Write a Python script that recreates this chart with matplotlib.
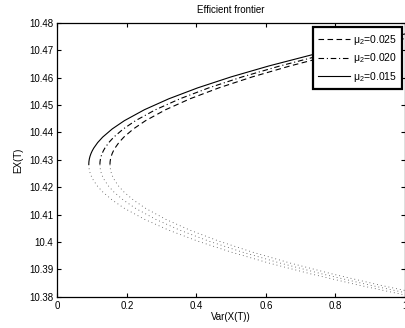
import matplotlib
matplotlib.use("Agg")
import matplotlib.pyplot as plt
from matplotlib.ticker import FuncFormatter

# expected wealth along the frontier (upper / lower branch)
ex_upper = [10.4283, 10.4293, 10.4303, 10.4313, 10.4323, 10.4333, 10.4343, 10.4363, 10.4383, 10.4413,
            10.4443, 10.4483, 10.4523, 10.4563, 10.4603, 10.4643, 10.4683, 10.4723, 10.4763, 10.4783]
ex_lower = [10.4283, 10.4273, 10.4263, 10.4253, 10.4243, 10.4233, 10.4223, 10.4203, 10.4183, 10.4153,
            10.4123, 10.4083, 10.4043, 10.4003, 10.3963, 10.3923, 10.3883, 10.3843, 10.3803, 10.3783]

# variance for each mu_2 (same for both branches)
var_025 = [0.151, 0.1514, 0.1526, 0.1546, 0.1574, 0.161, 0.1654, 0.1766, 0.191, 0.2186,
           0.2534, 0.311, 0.3814, 0.4646, 0.5606, 0.6694, 0.791, 0.9254, 1.0726, 1.151]
var_020 = [0.122, 0.1224, 0.1236, 0.1256, 0.1284, 0.132, 0.1364, 0.1476, 0.162, 0.1896,
           0.2244, 0.282, 0.3524, 0.4356, 0.5316, 0.6404, 0.762, 0.8964, 1.0436, 1.122]
var_015 = [0.090, 0.0904, 0.0916, 0.0936, 0.0964, 0.100, 0.1044, 0.1156, 0.130, 0.1576,
           0.1924, 0.250, 0.3204, 0.4036, 0.4996, 0.6084, 0.730, 0.8644, 1.0116, 1.090]

labels = ["0.025", "0.020", "0.015"]
x_ticks = [0, 0.2, 0.4, 0.6, 0.8, 1]
y_ticks = [10.38, 10.39, 10.40, 10.41, 10.42, 10.43, 10.44, 10.45, 10.46, 10.47, 10.48]

plt.rcParams["font.family"] = ["Liberation Sans", "DejaVu Sans"]
plt.rcParams["mathtext.fontset"] = "custom"
plt.rcParams["mathtext.rm"] = "Liberation Sans"
plt.rcParams["mathtext.it"] = "Liberation Sans:italic"
plt.rcParams["lines.scale_dashes"] = False

fig = plt.figure(figsize=(4.06, 3.28), dpi=100)
ax = fig.add_axes([0.1416, 0.0954, 0.8559, 0.8346])

styles = [(0, (4, 2.5)), (0, (4, 2, 0.8, 2)), "-"]
for var, lab, ls in zip([var_025, var_020, var_015], labels, styles):
    ax.plot(var, ex_upper, color="black", lw=0.8, linestyle=ls,
            label="μ$_2$=" + lab)
    ax.plot(var, ex_lower, color="0.3", lw=0.6, linestyle=(0, (0.6, 2.2)))

ax.set_xlim(0, 1)
ax.set_ylim(10.38, 10.48)
ax.set_xticks(x_ticks)
ax.set_yticks(y_ticks)
ax.xaxis.set_major_formatter(FuncFormatter(lambda v, p: "%g" % round(v, 4)))
ax.yaxis.set_major_formatter(FuncFormatter(lambda v, p: "%g" % round(v, 4)))
ax.tick_params(direction="in", top=True, right=True, length=3, width=0.8,
               labelsize=7, pad=3)
for s in ax.spines.values():
    s.set_linewidth(0.9)

ax.set_title("Efficient frontier", fontsize=7, pad=7)
ax.set_xlabel("Var(X(T))", fontsize=7, labelpad=1)
ax.set_ylabel("EX(T)", fontsize=7, labelpad=4)

leg = ax.legend(loc="upper right", bbox_to_anchor=(0.991, 0.984), borderaxespad=0,
                fontsize=7.5, handlelength=3.0, handletextpad=0.3, labelspacing=0.45,
                borderpad=0.5, fancybox=False, framealpha=1, edgecolor="black")
leg.get_frame().set_linewidth(1.6)

fig.savefig("out.png", dpi=100)
